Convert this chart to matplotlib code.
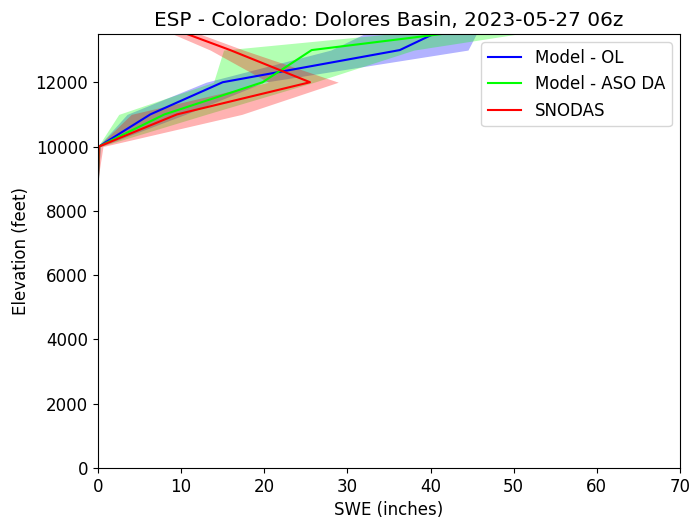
import matplotlib
matplotlib.use("Agg")
import matplotlib.pyplot as plt
import numpy as np

plt.rcParams["font.size"] = 12

elevations = [8000, 9000, 10000, 11000, 12000, 13000, 14000]

ol_mean = [0, 0, 0.1, 6.3, 15.0, 36.3, 44.4]
ol_low = [0, 0, 0.0, 3.5, 13.0, 28.0, 36.0]
ol_high = [0, 0, 0.3, 10.5, 20.0, 44.5, 46.5]

aso_mean = [0, 0, 0.1, 8.0, 19.8, 25.7, 57.0]
aso_low = [0, 0, 0.0, 2.5, 13.9, 15.1, 55.0]
aso_high = [0, 0, 0.3, 13.0, 26.0, 38.0, 63.0]

snodas_mean = [0, 0, 0.1, 9.5, 25.5, 15.9, 5.5]
snodas_low = [0, 0, 0.0, 4.0, 20.5, 13.5, 4.5]
snodas_high = [0, 0, 0.6, 17.3, 28.9, 17.5, 7.0]

series = [
    ("Model - OL", "#0000ff", ol_mean, ol_low, ol_high),
    ("Model - ASO DA", "#00ff00", aso_mean, aso_low, aso_high),
    ("SNODAS", "#ff0000", snodas_mean, snodas_low, snodas_high),
]

fig = plt.figure(figsize=(6.9, 5.23), dpi=100)
ax = fig.add_axes([0.142, 0.105, 0.9855 - 0.142, 0.935 - 0.105])

for label, color, mean, low, high in series:
    ax.fill_betweenx(elevations, low, high, color=color, alpha=0.3, linewidth=0)
for label, color, mean, low, high in series:
    ax.plot(mean, elevations, color=color, label=label, linewidth=1.5)

ax.set_xlim(0, 70)
ax.set_ylim(0, 13500)
ax.set_title("ESP - Colorado: Dolores Basin, 2023-05-27 06z")
ax.set_xlabel("SWE (inches)")
ax.set_ylabel("Elevation (feet)")
ax.legend(loc="upper right")

fig.savefig("out.png", dpi=100)
